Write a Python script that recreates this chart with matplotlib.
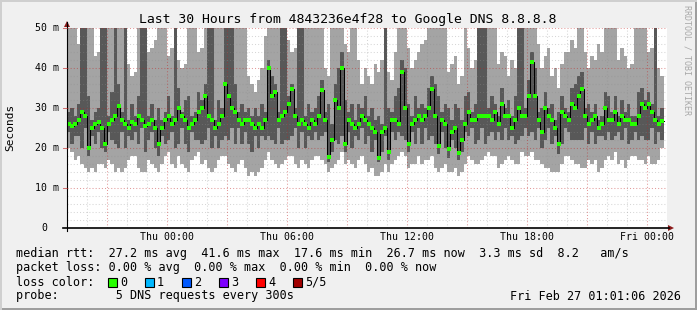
import matplotlib
matplotlib.use("Agg")
import matplotlib.pyplot as plt
import matplotlib.dates as mdates
from matplotlib.patches import Rectangle, Polygon
from matplotlib.lines import Line2D
from datetime import datetime, timedelta

# ---------------- data ----------------
title = "Last 30 Hours from 4843236e4f28 to Google DNS 8.8.8.8"
y_label = "Seconds"
y_ticks = [0, 10, 20, 30, 40, 50]
y_tick_labels = ["0", "10 m", "20 m", "30 m", "40 m", "50 m"]
x_tick_times = [datetime(2026, 2, 26, 0, 0), datetime(2026, 2, 26, 6, 0),
                datetime(2026, 2, 26, 12, 0), datetime(2026, 2, 26, 18, 0),
                datetime(2026, 2, 27, 0, 0)]
x_tick_labels = ["Thu 00:00", "Thu 06:00", "Thu 12:00", "Thu 18:00", "Fri 00:00"]

start = datetime(2026, 2, 25, 19, 1, 6)
end = datetime(2026, 2, 27, 1, 1, 6)
step_minutes = 10

# median rtt (ms) per step
median = [26, 25.5, 26, 27, 29, 28, 20, 25, 26, 26.5,
          25, 21, 26, 27, 28, 30.5, 27, 26, 25, 26.5,
          26, 28, 27, 25.5, 26, 27, 25, 21, 25, 27,
          28, 26, 27, 30, 28, 27, 25, 26, 27, 29,
          30, 33, 28, 27, 25, 26, 28, 36, 33, 30,
          29, 27, 26, 27, 27, 26, 25, 26, 25, 27,
          40, 33, 34, 27, 28, 29, 31, 34.7, 28, 26,
          27, 26, 25, 27, 26, 28, 34.5, 27, 17.7, 22,
          32, 30, 40, 21, 27, 26, 25, 26, 28, 27,
          26, 25, 24, 17.5, 24, 25, 19, 27, 27, 26,
          39, 30, 21, 26, 27, 28, 27, 28, 30, 34.7,
          28, 20.5, 27, 26, 19.7, 24, 25, 18.8, 22, 26,
          29, 27, 27, 28, 28, 28, 28, 27, 29, 26,
          31, 28, 28, 25, 27, 30, 28, 28, 33, 41.6,
          33, 27, 24, 30, 28, 27, 25, 21, 29, 28,
          27, 31, 30, 33, 34.7, 28, 26, 27, 28, 25,
          26, 30, 27, 27, 29, 26, 28, 27, 27, 26,
          26, 28, 31, 30, 31, 29, 27, 26, 26.7]
# 2nd lowest ping (inner smoke bottom)
ping2 = [24, 21, 23, 23, 20, 25, 18, 23, 21, 24,
         20, 19, 24, 22, 21, 20, 24, 20, 23, 22,
         24, 21, 25, 19, 22, 24, 20, 18, 23, 21,
         22, 24, 20, 21, 25, 21, 19, 24, 22, 22,
         21, 22, 25, 20, 23, 20, 22, 23, 22, 25,
         21, 25, 21, 24, 21, 19, 23, 20, 23, 22,
         23, 22, 21, 25, 21, 22, 22, 23, 25, 20,
         24, 20, 23, 22, 24, 22, 23, 24, 16.5, 19,
         22, 21, 23, 19, 24, 20, 23, 22, 25, 21,
         23, 19, 22, 16.5, 19, 23, 17, 24, 22, 24,
         23, 22, 19, 24, 21, 25, 21, 25, 22, 23,
         21, 18.5, 24, 20, 17.5, 22, 20, 17, 19, 24,
         23, 25, 21, 22, 25, 21, 23, 24, 22, 24,
         22, 25, 22, 23, 21, 22, 23, 25, 23, 24,
         22, 25, 20, 22, 25, 21, 23, 18.5, 21, 25,
         24, 22, 22, 22, 22, 25, 21, 24, 21, 23,
         23, 22, 24, 22, 23, 24, 22, 25, 21, 22,
         24, 22, 23, 22, 22, 25, 21, 24, 22]
# 4th ping (inner smoke top)
ping4 = [29, 30, 28, 31, 60, 60, 33, 27, 29, 30,
         60, 60, 28, 34, 60, 36, 29, 60, 27, 31,
         28, 33, 60, 60, 28, 31, 27, 30, 27, 29,
         33, 28, 60, 35, 29, 32, 33, 28, 29, 34,
         32, 36, 60, 60, 27, 32, 30, 60, 60, 60,
         36, 29, 31, 29, 30, 28, 30, 28, 31, 29,
         42, 38, 36, 29, 60, 60, 33, 36, 30, 60,
         60, 28, 31, 29, 30, 33, 37, 29, 31, 26,
         36, 40, 44, 32, 29, 31, 27, 31, 30, 33,
         28, 30, 27, 28, 26, 60, 30, 29, 33, 35,
         42, 40, 31, 28, 33, 30, 31, 30, 35, 38,
         36, 33, 29, 31, 30, 27, 31, 30, 27, 33,
         34, 29, 31, 60, 60, 60, 30, 33, 31, 28,
         35, 30, 32, 28, 33, 60, 60, 30, 37, 44,
         40, 29, 30, 34, 30, 31, 27, 29, 33, 30,
         29, 35, 36, 38, 39, 30, 31, 29, 31, 27,
         28, 34, 33, 29, 33, 28, 32, 29, 31, 28,
         28, 34, 35, 32, 34, 31, 60, 28, 30]
# lowest ping (outer smoke bottom)
ping1 = [20, 19, 17, 18, 16, 15, 14, 15, 14, 16,
         16, 15, 17, 16, 14, 15, 14, 15, 17, 18,
         18, 15, 14, 14, 17, 16, 15, 14, 16, 18,
         19, 16, 15, 18, 16, 15, 14, 17, 18, 19,
         16, 17, 15, 14, 15, 17, 18, 18, 16, 15,
         14, 16, 17, 15, 13, 14, 13, 14, 15, 17,
         19, 17, 16, 15, 16, 17, 18, 18, 16, 15,
         17, 16, 15, 17, 18, 18, 17, 16, 14, 15,
         16, 17, 19, 16, 17, 16, 15, 17, 18, 16,
         14, 15, 13, 13, 14, 16, 14, 16, 17, 18,
         19, 18, 15, 16, 16, 18, 16, 17, 17, 18,
         15, 14, 15, 16, 14, 14, 15, 13, 14, 16,
         18, 17, 16, 16, 17, 18, 19, 18, 18, 15,
         16, 17, 18, 17, 16, 16, 19, 18, 18, 19,
         17, 17, 16, 15, 15, 14, 14, 14, 16, 18,
         18, 17, 16, 16, 15, 15, 17, 16, 17, 14,
         15, 17, 18, 17, 19, 16, 17, 15, 17, 18,
         18, 17, 17, 16, 18, 16, 16, 17, 20]
# highest ping (outer smoke top)
ping5 = [60, 60, 60, 46, 60, 60, 60, 60, 43, 44,
         60, 60, 60, 60, 60, 60, 60, 60, 41, 38,
         39, 60, 60, 60, 44, 45, 47, 60, 60, 60,
         43, 45, 60, 42, 40, 41, 60, 60, 60, 44,
         45, 60, 60, 60, 60, 60, 60, 60, 60, 60,
         60, 60, 60, 60, 38, 36, 34, 37, 40, 48,
         60, 60, 60, 60, 60, 60, 47, 44, 45, 60,
         60, 60, 60, 60, 60, 60, 60, 40, 38, 60,
         60, 60, 60, 46, 44, 60, 60, 42, 36, 40,
         38, 36, 41, 39, 42, 60, 39, 37, 44, 60,
         60, 60, 45, 40, 42, 44, 46, 47, 60, 60,
         60, 60, 60, 60, 39, 41, 43, 36, 38, 60,
         45, 40, 42, 60, 60, 60, 60, 60, 60, 41,
         44, 43, 38, 42, 40, 60, 60, 60, 60, 60,
         60, 46, 40, 43, 45, 38, 40, 35, 41, 44,
         44, 47, 45, 60, 60, 44, 40, 43, 42, 46,
         44, 60, 60, 60, 60, 42, 45, 43, 40, 41,
         60, 60, 60, 60, 44, 45, 60, 40, 38]

legend_lines = [
    "median rtt:  27.2 ms avg  41.6 ms max  17.6 ms min  26.7 ms now  3.3 ms sd  8.2   am/s",
    "packet loss: 0.00 % avg  0.00 % max  0.00 % min  0.00 % now",
    "loss color:",
    "probe:        5 DNS requests every 300s",
]
loss_labels = ["0", "1", "2", "3", "4", "5/5"]
loss_colors = ["#26ff00", "#00b8ff", "#0059ff", "#7e00ff", "#ff0000", "#a10000"]
timestamp = "Fri Feb 27 01:01:06 2026"
watermark = "RRDTOOL / TOBI OETIKER"

# ---------------- styling ----------------
W, H, DPI = 697, 310, 100
MONO = "DejaVu Sans Mono"
LIGHT = "#a4a4a4"
DARK = "#585858"
ARROW = "#8b1a1a"

fig = plt.figure(figsize=(W / DPI, H / DPI), dpi=DPI, facecolor="#f0f0f0")


def fx(px):
    return px / W


def fy(py):
    return 1 - py / H


# frame shading
fig.add_artist(Rectangle((0, fy(310)), fx(697), 2 / H, transform=fig.transFigure,
                         fc="#9e9e9e", ec="none"))
fig.add_artist(Rectangle((fx(695), 0), 2 / W, 1, transform=fig.transFigure,
                         fc="#9e9e9e", ec="none"))
fig.add_artist(Rectangle((0, fy(2)), 1, 2 / H, transform=fig.transFigure,
                         fc="#cfcfcf", ec="none"))
fig.add_artist(Rectangle((0, 0), 2 / W, 1, transform=fig.transFigure,
                         fc="#cfcfcf", ec="none"))

ax = fig.add_axes([fx(67), fy(228), 600 / W, 200 / H])
ax.set_facecolor("white")
for s in ax.spines.values():
    s.set_visible(False)
ax.set_xlim(mdates.date2num(start), mdates.date2num(end))
ax.set_ylim(0, 50)
ax.set_xticks([])
ax.set_yticks([])

n = len(median)
edges = [start + timedelta(minutes=step_minutes * i) for i in range(n + 1)]
centers = [start + timedelta(minutes=step_minutes * (i + 0.5)) for i in range(n)]


def ext(a):
    return list(a) + [a[-1]]


ax.fill_between(edges, ext(ping1), ext(ping5), step="post", color=LIGHT,
                lw=0, antialiased=False, zorder=1)
ax.fill_between(edges, ext(ping2), ext(ping4), step="post", color=DARK,
                lw=0, antialiased=False, zorder=2)

# grid
for v in range(2, 50, 2):
    if v % 10:
        ax.axhline(v, color="#8c8c8c", alpha=0.35, lw=0.75, ls=(0, (1, 2)), zorder=3)
for v in y_ticks[1:]:
    ax.axhline(v, color="#c02020", alpha=0.45, lw=0.75, ls=(0, (1, 2)), zorder=3)

hour = datetime(2026, 2, 25, 20, 0)
while hour < end:
    if hour.hour % 3 == 0:
        ax.axvline(hour, color="#c02020", alpha=0.45, lw=0.75, ls=(0, (1, 2)), zorder=3)
    else:
        ax.axvline(hour, color="#8c8c8c", alpha=0.35, lw=0.75, ls=(0, (1, 2)), zorder=3)
    hour += timedelta(hours=1)

# median line
ax.step(edges, ext(median), where="post", color="black", lw=0.75, zorder=4)
ax.plot(centers, median, ls="none", marker="s", ms=2.3, mew=0,
        color=loss_colors[0], zorder=5)

# y tick labels
ytr = ax.get_yaxis_transform()
for v, lab in zip(y_ticks, y_tick_labels):
    xr = 59 if lab != "0" else 47
    ax.text((xr - 67) / 600, v, lab, transform=ytr, ha="right", va="center",
            family=MONO, fontsize=7.1, clip_on=False)
# x tick labels
xtr = ax.get_xaxis_transform()
for t, lab in zip(x_tick_times, x_tick_labels):
    ax.text(t, -9.5 / 200, lab, transform=xtr, ha="center", va="center",
            family=MONO, fontsize=7.1, clip_on=False)

# axes lines, ticks and arrows
fig.add_artist(Line2D([fx(67), fx(67)], [fy(231), fy(22)], transform=fig.transFigure,
                      color="black", lw=0.8))
fig.add_artist(Line2D([fx(63), fx(669)], [fy(228), fy(228)], transform=fig.transFigure,
                      color="black", lw=1.2))
for v in y_ticks[1:]:
    py = 228 - v * 4
    fig.add_artist(Line2D([fx(63), fx(67)], [fy(py), fy(py)], transform=fig.transFigure,
                          color="#c02020", alpha=0.6, lw=0.75))
fig.add_artist(Polygon([(fx(64), fy(27)), (fx(70), fy(27)), (fx(67), fy(21))],
                       closed=True, transform=fig.transFigure, fc=ARROW, ec="none"))
fig.add_artist(Polygon([(fx(668), fy(225)), (fx(668), fy(231)), (fx(674), fy(228))],
                       closed=True, transform=fig.transFigure, fc=ARROW, ec="none"))

# title and labels
fig.text(fx(348), fy(19), title, ha="center", va="center", family=MONO, fontsize=9.45)
fig.text(fx(10), fy(127), y_label, ha="center", va="center", rotation=90,
         family=MONO, fontsize=8)
fig.text(fx(687), fy(5), watermark, ha="center", va="top", rotation=270,
         family=MONO, fontsize=6, color="#a8a8a8")

# legend
leg_y = [254, 268, 282, 296]
for line, yy in zip(legend_lines, leg_y):
    fig.text(fx(16), fy(yy), line, ha="left", va="center", family=MONO, fontsize=8.5)
for k, (lab, col) in enumerate(zip(loss_labels, loss_colors)):
    bx = 108 + 37 * k
    fig.add_artist(Rectangle((fx(bx), fy(286.5)), 9 / W, 9 / H, transform=fig.transFigure,
                             fc=col, ec="black", lw=0.8))
    fig.text(fx(bx + 12), fy(282), lab, ha="left", va="center", family=MONO, fontsize=8.5)
fig.text(fx(681), fy(296), timestamp, ha="right", va="center", family=MONO, fontsize=8.5)

fig.savefig("out.png", dpi=DPI, facecolor=fig.get_facecolor())
